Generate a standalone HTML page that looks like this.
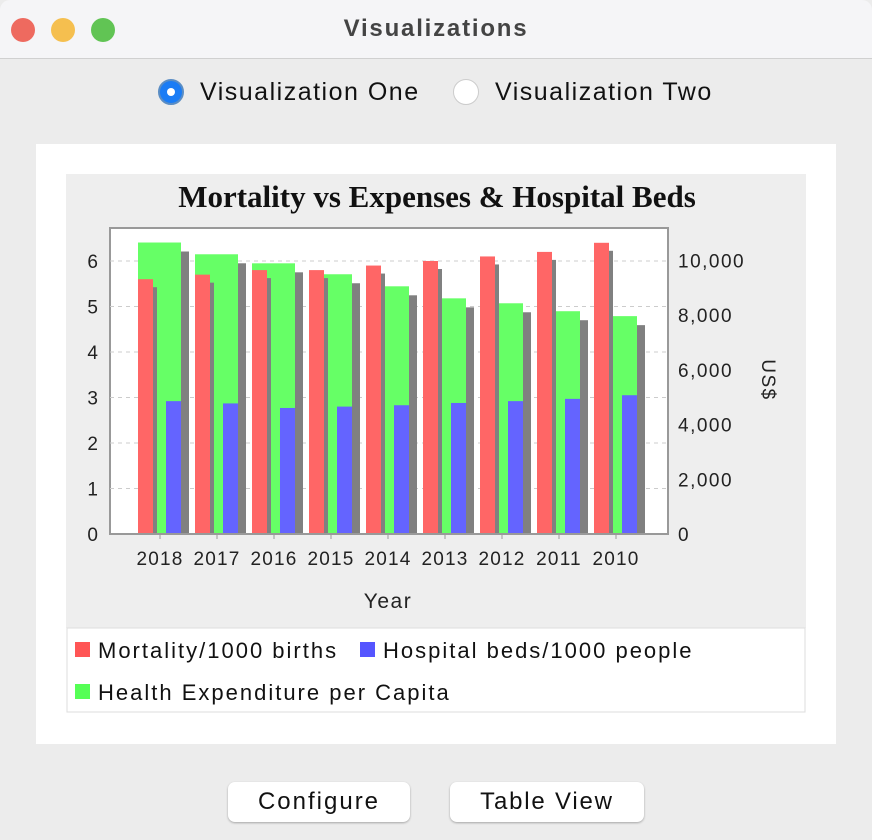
<!DOCTYPE html>
<html><head><meta charset="utf-8"><style>
body{margin:0;width:872px;height:840px;background:#ececec;font-family:"Liberation Sans",sans-serif;position:relative;overflow:hidden}
.abs{position:absolute}
</style></head><body>
<div class="abs" style="left:0;top:0;width:872px;height:58px;background:#f5f5f7;border-bottom:1px solid #d0d0d0;border-radius:10px 10px 0 0">
 <div class="abs" style="left:11px;top:18px;width:24px;height:24px;border-radius:50%;background:#ee6a5f"></div>
 <div class="abs" style="left:51px;top:18px;width:24px;height:24px;border-radius:50%;background:#f5bf4f"></div>
 <div class="abs" style="left:91px;top:18px;width:24px;height:24px;border-radius:50%;background:#61c454"></div>
 <div class="abs" style="left:0;width:872px;top:15px;text-align:center;font-size:24px;letter-spacing:1.8px;font-weight:bold;color:#444">Visualizations</div>
</div>
<div class="abs" style="left:158px;top:78px;height:30px;font-size:25px;letter-spacing:1.5px;color:#111">
 <span class="abs" style="left:0;top:1px;width:22px;height:22px;border-radius:50%;background:#1a7cf5;border:2px solid #5a8dc4"></span>
 <span class="abs" style="left:9px;top:10px;width:8px;height:8px;border-radius:50%;background:#fff"></span>
 <span class="abs" style="left:42px;top:0;white-space:nowrap">Visualization One</span>
</div>
<div class="abs" style="left:453px;top:78px;height:30px;font-size:25px;letter-spacing:1.5px;color:#111">
 <span class="abs" style="left:0;top:1px;width:24px;height:24px;border-radius:50%;background:#fff;border:1px solid #ccc"></span>
 <span class="abs" style="left:42px;top:0;white-space:nowrap">Visualization Two</span>
</div>
<div class="abs" style="left:36px;top:144px;width:800px;height:600px;background:#fff"></div>
<svg class="abs" style="left:0;top:0" width="872" height="840" id="chart"></svg>
<div class="abs" style="left:228px;top:782px;width:182px;height:40px;background:#fff;border-radius:7px;box-shadow:0 1px 2px rgba(0,0,0,.3);text-align:center;line-height:40px;font-size:24px;letter-spacing:2px;color:#111">Configure</div>
<div class="abs" style="left:450px;top:782px;width:194px;height:40px;background:#fff;border-radius:7px;box-shadow:0 1px 2px rgba(0,0,0,.3);text-align:center;line-height:40px;font-size:24px;letter-spacing:1.8px;color:#111">Table View</div>
<script>
const years=["2018","2017","2016","2015","2014","2013","2012","2011","2010"];
const mortality=[5.6,5.7,5.8,5.8,5.9,6.0,6.1,6.2,6.4];
const beds=[2.92,2.87,2.77,2.8,2.83,2.88,2.92,2.97,3.05];
const expenditure=[10650,10220,9890,9490,9050,8610,8430,8140,7960];
const leftTicks=[0,1,2,3,4,5,6];
const rightTicks=[0,2000,4000,6000,8000,10000];
const NS="http://www.w3.org/2000/svg";
const svg=document.getElementById('chart');
const PL=110,PR=668,PT=228,PB=534;
const yL=v=>PB-v*45.5;
const yR=v=>PB-v*0.02737;
const xC=i=>160+57*i;
function mk(t,a,txt){const e=document.createElementNS(NS,t);for(const k in a)e.setAttribute(k,a[k]);if(txt!==undefined)e.textContent=txt;svg.appendChild(e);return e;}
let e;
e=mk('rect',{x:66,y:174,width:740,height:454,fill:'#eeeeee'});


e=mk('text',{x:437,y:207,'text-anchor':'middle','font-family':'Liberation Serif,serif','font-weight':'bold','font-size':31,fill:'#111'},'Mortality vs Expenses & Hospital Beds');


e=mk('rect',{x:PL,y:PT,width:PR-PL,height:PB-PT,fill:'#fff',stroke:'#999','stroke-width':2});


leftTicks.forEach(t=>{
 if(t>0){e=mk('line',{x1:PL,x2:PR,y1:yL(t),y2:yL(t),stroke:'#ccc','stroke-dasharray':'4,4'});
 
 }
 e=mk('text',{x:98,y:yL(t)+7,'text-anchor':'end','font-size':19,fill:'#222'},String(t));
 
 
});
rightTicks.forEach(t=>{
 e=mk('text',{x:678,y:yR(t)+7,'font-size':19,'letter-spacing':1.5,fill:'#222'},t.toLocaleString('en-US'));
 
 
});
years.forEach((y,i)=>{
 const c=xC(i);
 const g=mk('g',{});
 
 
 const r=(x,yy,w,col,name)=>{const b=document.createElementNS(NS,'rect');b.setAttribute('x',x);b.setAttribute('y',yy);b.setAttribute('width',w);b.setAttribute('height',Math.max(0,PB-yy));b.setAttribute('fill',col);g.appendChild(b);return b;};
 r(c-22+8,yR(expenditure[i])+9,43,'#808080','expenditure-shadow');
 r(c-22,yR(expenditure[i]),43,'#66ff66','bar-expenditure-'+y);
 r(c-22+4,yL(mortality[i])+8,15,'#808080','mortality-shadow');
 r(c-22,yL(mortality[i]),15,'#ff6666','bar-mortality-'+y);
 r(c+6,yL(beds[i]),15,'#6464ff','bar-beds-'+y);
 e=mk('line',{x1:c,x2:c,y1:PB,y2:PB+5,stroke:'#999'});
 
 
 e=mk('text',{x:c,y:565,'text-anchor':'middle','font-size':19,'letter-spacing':1.2,fill:'#222'},y);
 
 
});
e=mk('line',{x1:PL,x2:PR,y1:PB,y2:PB,stroke:'#999','stroke-width':2});


e=mk('text',{x:388,y:608,'text-anchor':'middle','font-size':21,'letter-spacing':1.5,fill:'#222'},'Year');


e=mk('text',{x:762,y:380,'text-anchor':'middle','font-size':19,'letter-spacing':1.5,fill:'#222',transform:'rotate(90 762 380)'},'US$');


e=mk('rect',{x:67,y:628,width:738,height:84,fill:'#fff',stroke:'#ddd'});


[[75,642,'#ff5555','Mortality/1000 births',98,657],[360,642,'#5555ff','Hospital beds/1000 people',383,657],[75,684,'#55ff55','Health Expenditure per Capita',98,699]].forEach(l=>{
 e=mk('rect',{x:l[0],y:l[1],width:15,height:15,fill:l[2]});
 
 
 e=mk('text',{x:l[4],y:l[5]+1,'font-size':22,'letter-spacing':2,fill:'#111'},l[3]);
 
 
});
</script>
</body></html>
